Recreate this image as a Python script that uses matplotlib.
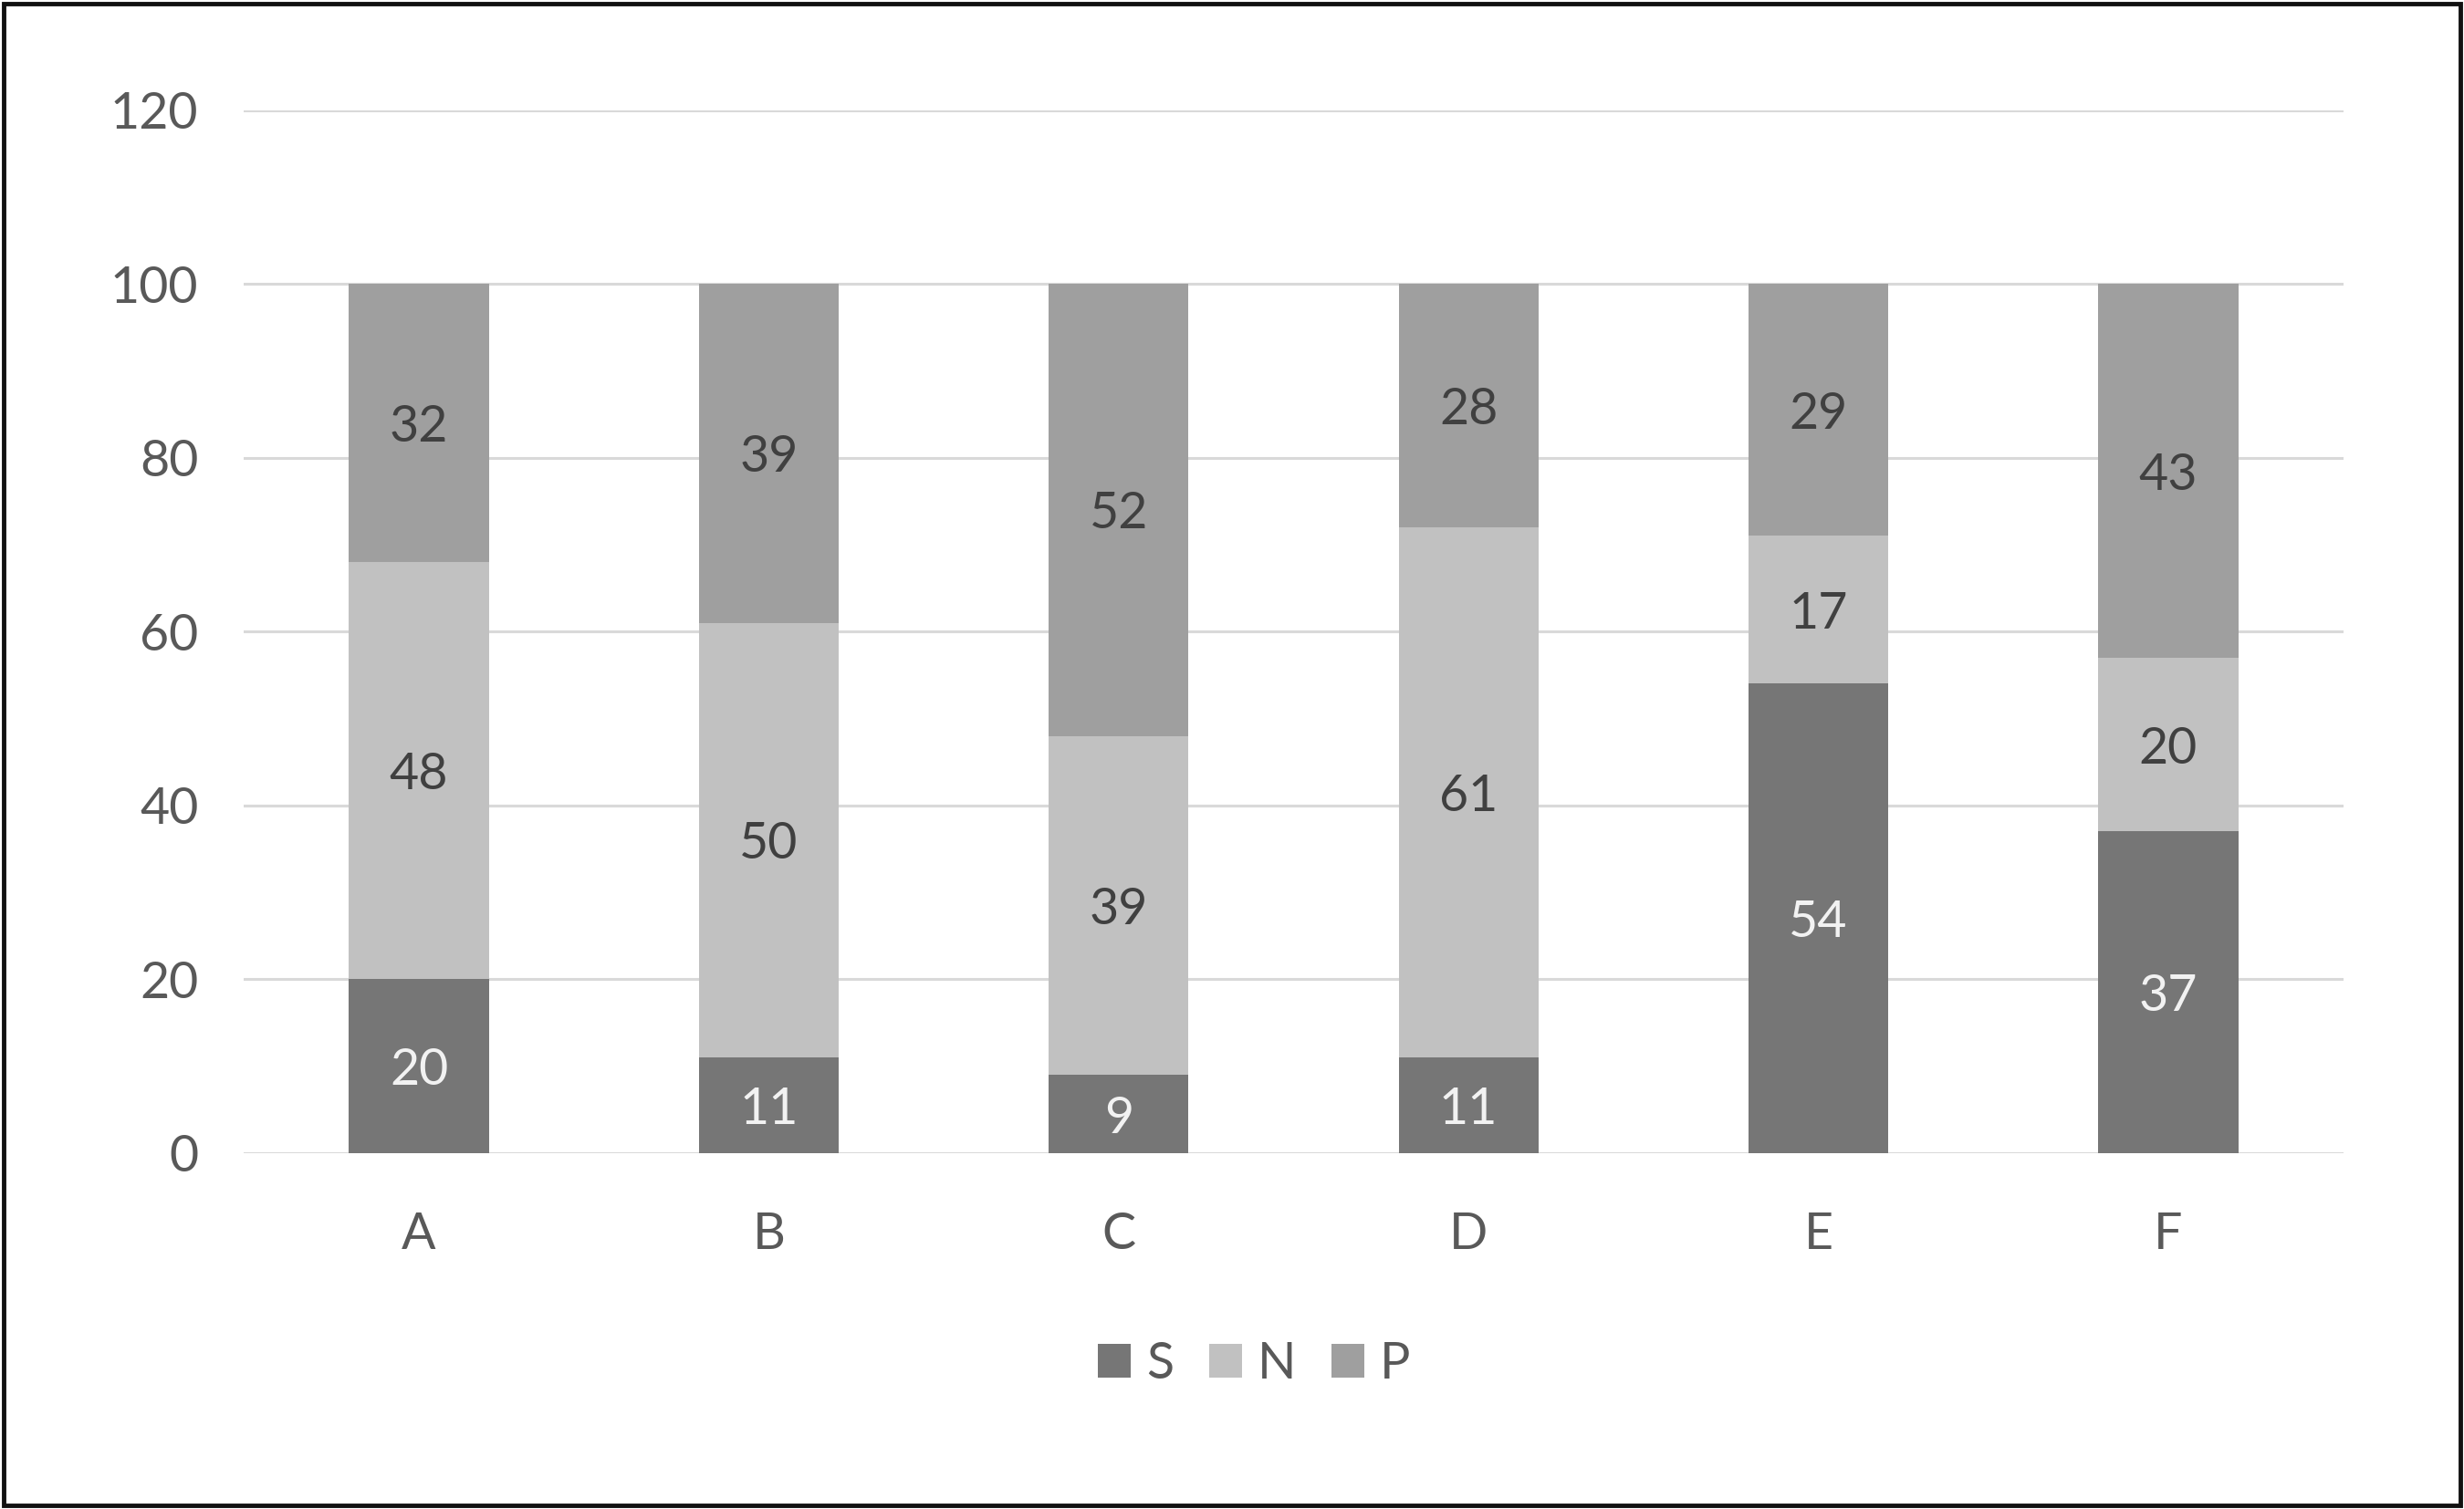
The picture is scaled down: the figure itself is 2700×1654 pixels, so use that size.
import matplotlib
matplotlib.use("Agg")
import matplotlib.pyplot as plt
from matplotlib.patches import Rectangle, Patch
import numpy as np

categories = ["A", "B", "C", "D", "E", "F"]
series_names = ["S", "N", "P"]
S_vals = [20, 11, 9, 11, 54, 37]
N_vals = [48, 50, 39, 61, 17, 20]
P_vals = [32, 39, 52, 28, 29, 43]
y_ticks = [0, 20, 40, 60, 80, 100, 120]

colors = ["#767676", "#c1c1c1", "#9f9f9f"]
label_colors = ["#f2f2f2", "#404040", "#404040"]
text_color = "#595959"

plt.rcParams['font.family'] = ['Lato', 'DejaVu Sans']

fig = plt.figure(figsize=(27, 16.54), dpi=100)
ax = fig.add_axes([0.099, 0.2358, 0.852, 0.6913])

x = np.arange(len(categories))
bottom = np.zeros(len(categories))
width = 0.4
for vals, name, col, lc in zip([S_vals, N_vals, P_vals], series_names, colors, label_colors):
    vals = np.array(vals, dtype=float)
    bars = ax.bar(x, vals, width, bottom=bottom, color=col, label=name, zorder=3)
    for xi, b, v in zip(x, bottom, vals):
        ax.text(xi, b + v / 2, f"{int(v)}", ha="center", va="center_baseline",
                color=lc, fontsize=40, zorder=4)
    bottom += vals

ax.set_xlim(-0.5, len(categories) - 0.5)
ax.set_ylim(0, 120)
ax.set_yticks(y_ticks)
ax.set_xticks(x)
ax.set_xticklabels(categories)
ax.yaxis.grid(True, color="#d9d9d9", linewidth=2.2, zorder=0)
ax.set_axisbelow(True)
for sp in ["top", "right", "left", "bottom"]:
    ax.spines[sp].set_visible(False)
ax.tick_params(axis="both", length=0, labelsize=40, colors=text_color)
ax.tick_params(axis="y", pad=36)
ax.tick_params(axis="x", pad=46)

handles = [Patch(facecolor=c, edgecolor="none") for c in colors]
fig.legend(handles, series_names, loc="center", bbox_to_anchor=(0.509, 0.096),
           ncol=3, frameon=False, fontsize=40, labelcolor=text_color,
           handlelength=0.65, handleheight=0.65, handletextpad=0.3,
           columnspacing=0.7)

fig.add_artist(Rectangle((0.0015, 0.0025), 0.997, 0.995, transform=fig.transFigure,
                         fill=False, edgecolor="#111111", linewidth=3.5))

fig.savefig("out.png", dpi=100)
